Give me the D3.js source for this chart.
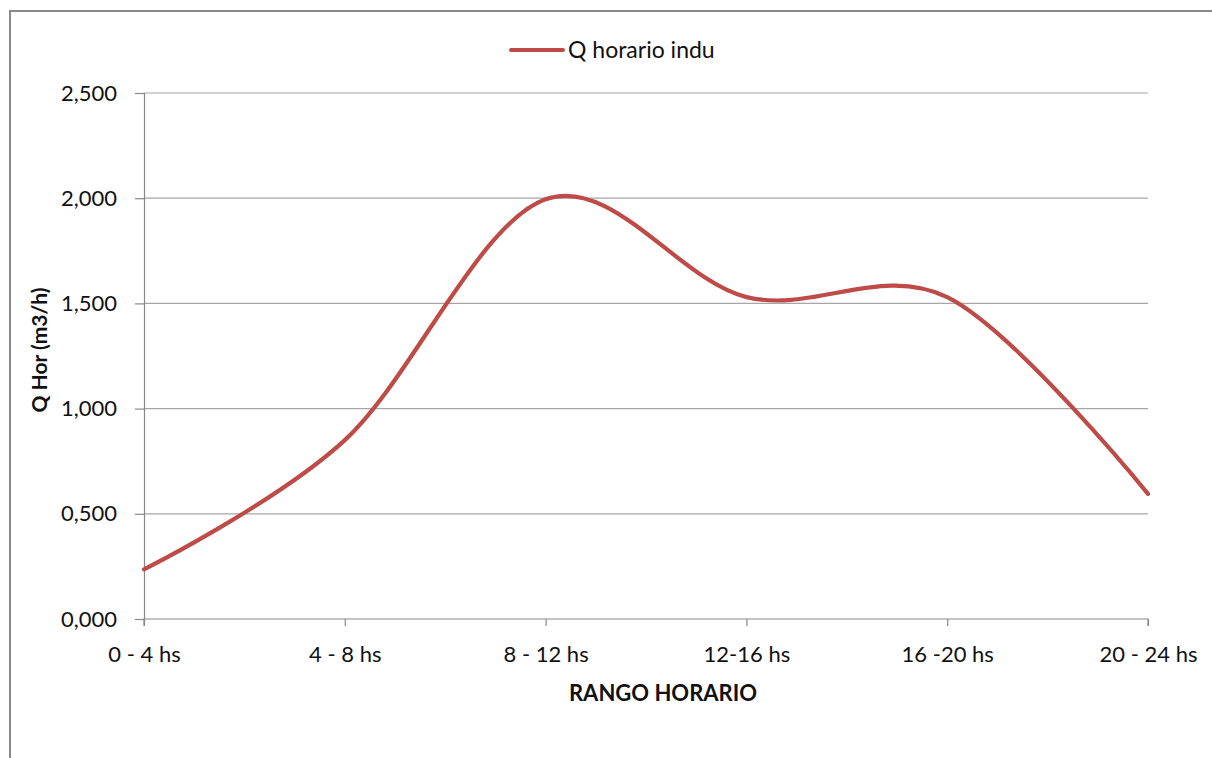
<!DOCTYPE html>
<html>
<head>
<meta charset="utf-8">
<script src="https://cdn.jsdelivr.net/npm/d3@7"></script>
<style>
  html, body { margin: 0; padding: 0; background: #fff; }
  svg { display: block; }
  text { font-family: Lato, "Open Sans", sans-serif; fill: #111; }
</style>
</head>
<body>
<svg id="chart" width="1212" height="758"></svg>
<script>
// Hourly industrial flow by time range
const categories = ["0 - 4 hs", "4 - 8 hs", "8 - 12 hs", "12-16 hs", "16 -20 hs", "20 - 24 hs"];
const qHorario = [236, 850, 1995, 1530, 1530, 595];
const yTicks = [0, 500, 1000, 1500, 2000, 2500];
const yTickLabels = ["0,000", "0,500", "1,000", "1,500", "2,000", "2,500"];
const seriesName = "Q horario indu";
const xTitle = "RANGO HORARIO";
const yTitle = "Q Hor (m3/h)";

const svg = d3.select("#chart");
const W = 1212, H = 758;
const m = { left: 144, right: 1148, top: 93, bottom: 619 };

// Chart frame
svg.append("rect")
  .attr("x", 10).attr("y", 11)
  .attr("width", W + 20).attr("height", H + 20)
  .attr("fill", "#fff")
  .attr("stroke", "#888").attr("stroke-width", 2);

const x = d3.scalePoint().domain(categories).range([m.left, m.right]);
const y = d3.scaleLinear().domain([0, 2500]).range([m.bottom, m.top]);

// Horizontal gridlines
svg.append("g").selectAll("line")
  .data(yTicks.filter(d => d > 0))
  .join("line")
  .attr("x1", m.left).attr("x2", m.right)
  .attr("y1", d => y(d)).attr("y2", d => y(d))
  .attr("stroke", "#a6a6a6").attr("stroke-width", 1.2);

// Y axis
const yAxis = d3.axisLeft(y).tickValues(yTicks).tickSize(9).tickPadding(18)
  .tickFormat((d, i) => yTickLabels[i]);
const gy = svg.append("g").attr("transform", `translate(${m.left},0)`).call(yAxis);
gy.select(".domain").attr("stroke", "#888").attr("stroke-width", 1.2);
gy.selectAll(".tick line").attr("stroke", "#888").attr("stroke-width", 1.2);
gy.selectAll(".tick text").attr("font-size", 22).attr("fill", "#111")
  .style("font-family", "Lato, sans-serif");

// X axis
const xAxis = d3.axisBottom(x).tickSize(7).tickPadding(12);
const gx = svg.append("g").attr("transform", `translate(0,${m.bottom})`).call(xAxis);
gx.select(".domain").attr("stroke", "#888").attr("stroke-width", 1.2)
  .attr("d", `M${m.left},7V0H${m.right}V7`);
gx.selectAll(".tick line").attr("stroke", "#888").attr("stroke-width", 1.2);
gx.selectAll(".tick text").attr("font-size", 22).attr("fill", "#111")
  .attr("dy", null).attr("y", 43)
  .style("font-family", "Lato, sans-serif");

// Smoothed series line
const line = d3.line()
  .x((d, i) => x(categories[i]))
  .y(d => y(d))
  .curve(d3.curveCardinal.tension(0));

svg.append("path")
  .datum(qHorario)
  .attr("d", line)
  .attr("fill", "none")
  .attr("stroke", "#be4b48")
  .attr("stroke-width", 4.2)
  .attr("stroke-linecap", "round");

// Axis titles
svg.append("text")
  .attr("x", 663).attr("y", 701)
  .attr("text-anchor", "middle")
  .attr("font-size", 22).attr("font-weight", "bold")
  .text(xTitle);

svg.append("text")
  .attr("transform", "translate(47,350) rotate(-90)")
  .attr("text-anchor", "middle")
  .attr("font-size", 21).attr("font-weight", "bold")
  .text(yTitle);

// Legend
const lg = svg.append("g").attr("transform", "translate(0,50)");
lg.append("line")
  .attr("x1", 511).attr("x2", 563).attr("y1", 0).attr("y2", 0)
  .attr("stroke", "#be4b48").attr("stroke-width", 4)
  .attr("stroke-linecap", "round");
lg.append("text")
  .attr("x", 568).attr("y", 8)
  .attr("font-size", 23)
  .text(seriesName);
</script>
</body>
</html>
